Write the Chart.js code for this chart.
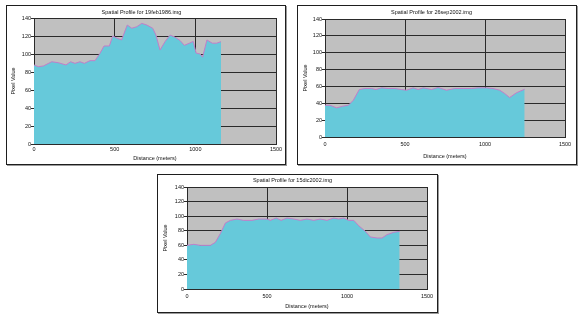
<!DOCTYPE html>
<html>
<head>
<meta charset="utf-8">
<script src="https://cdn.jsdelivr.net/npm/chart.js@4.4.1/dist/chart.umd.min.js"></script>
<style>
  html, body { margin: 0; padding: 0; background: #fff; }
  body { width: 585px; height: 319px; position: relative; overflow: hidden; }
  .frame {
    position: absolute;
    box-sizing: border-box;
    border: 1px solid #1e1e1e;
    box-shadow: 1px 1px 0 #9a9a9a;
    background: #fff;
  }
  .frame canvas { display: block; }
</style>
</head>
<body>
<div class="frame" id="f1" style="left:6px; top:5px; width:280px; height:160px;"><canvas id="c1"></canvas></div>
<div class="frame" id="f2" style="left:297px; top:5px; width:280px; height:160px;"><canvas id="c2"></canvas></div>
<div class="frame" id="f3" style="left:157px; top:174px; width:281px; height:139px;"><canvas id="c3"></canvas></div>
<script>
// Profile 1 - 19feb1986
const dist1 = [0, 27, 58, 110, 151, 198, 227, 254, 285, 312, 347, 378, 409, 434, 467, 488, 516, 543,
    578, 606, 637, 668, 699, 736, 756, 781, 812, 843, 874, 905, 932, 963, 987, 1005, 1030, 1045,
    1072, 1105, 1132, 1159];
const vals1 = [87.8, 85.9, 86.7, 91.4, 90.3, 87.8, 91.4, 89.6, 91.4, 89.6, 92.6, 92.6, 100.8, 108.9,
    108.9, 120, 117.4, 115.6, 132.2, 128.6, 130.3, 134, 132.2, 128.6, 121, 104.4, 113.7, 121,
    118.7, 115, 109.6, 112, 114, 101, 100, 96.5, 115.6, 112, 112, 113.7];

// Profile 2 - 26sep2002
const dist2 = [0, 31, 73, 110, 146, 177, 214, 250, 291, 318, 354, 395, 437, 478, 510, 551, 582, 614,
    666, 707, 759, 811, 863, 915, 957, 1009, 1050, 1092, 1123, 1154, 1196, 1248];
const vals2 = [37.7, 37.7, 34.5, 36.5, 37.7, 43.6, 56.3, 57.5, 57.5, 56.3, 58.3, 57.5, 57.5, 56.3,
    55.5, 58.3, 56.3, 58.3, 56.3, 58.7, 55.5, 57.5, 57.5, 57.5, 58.3, 58.3, 57.5, 55.5, 51.6,
    46.8, 52.4, 56.7];

// Profile 3 - 15dic2002
const dist3 = [0, 42, 83, 146, 177, 208, 240, 271, 313, 354, 406, 448, 500, 521, 558, 588, 625, 667,
    708, 750, 792, 833, 875, 917, 948, 979, 1010, 1042, 1073, 1115, 1146, 1188, 1219, 1250, 1292, 1329];
const vals3 = [59.9, 61.3, 59.9, 59.9, 64, 75.9, 90.6, 94.2, 96, 94.2, 94.2, 96, 96, 94.2, 97.4, 94.2,
    97.4, 96, 94.2, 96, 94.2, 96, 94.2, 97.4, 96, 97.4, 94.2, 94.2, 86.9, 79.1, 71.4, 70, 70,
    74.6, 77.8, 79.1];

const titles = ['Spatial Profile for 19feb1986.img', 'Spatial Profile for 26sep2002.img',
    'Spatial Profile for 15dic2002.img'];
const xTitle = 'Distance (meters)';
const yTitle = 'Pixel Value';

const FONT = "'Liberation Sans Narrow', Arial, 'Liberation Sans', sans-serif";
const colors = {
    plotBg: '#c0c0c0',
    fill: '#66c9da',
    line: '#c27ec9',
    grid: '#2a2a2a',
    text: '#111'
};

// paints the gray plot background under everything
const plotBackground = {
    id: 'plotBackground',
    beforeDraw(chart) {
        const { ctx, chartArea: a } = chart;
        ctx.save();
        ctx.fillStyle = colors.plotBg;
        ctx.fillRect(a.left, a.top, a.right - a.left, a.bottom - a.top);
        ctx.restore();
    }
};

function makeProfile(id, title, dist, vals, box) {
    const canvas = document.getElementById(id);
    canvas.width = box.w;
    canvas.height = box.h;
    canvas.style.width = box.w + 'px';
    canvas.style.height = box.h + 'px';
    const small = { family: FONT, size: 5.5 };

    return new Chart(canvas, {
        type: 'line',
        data: {
            datasets: [{
                data: dist.map((d, i) => ({ x: d, y: vals[i] })),
                borderColor: colors.line,
                backgroundColor: colors.fill,
                borderWidth: 1,
                fill: 'origin',
                tension: 0,
                pointRadius: 0
            }]
        },
        options: {
            responsive: false,
            animation: false,
            events: [],
            layout: { padding: { left: 0, top: 0, right: box.padRight, bottom: 0 } },
            plugins: {
                legend: { display: false },
                tooltip: { enabled: false },
                title: {
                    display: true,
                    text: title,
                    color: colors.text,
                    font: { family: FONT, size: 5.5, weight: 'normal', lineHeight: 1.2 },
                    padding: { top: box.titleTop, bottom: box.titleBottom }
                }
            },
            scales: {
                x: {
                    type: 'linear',
                    min: 0,
                    max: 1500,
                    ticks: {
                        stepSize: 500, color: colors.text, font: small, padding: box.xTickPad, maxRotation: 0,
                        callback: v => String(v)
                    },
                    grid: { color: colors.grid, lineWidth: 1, tickLength: 1 },
                    border: { color: colors.grid },
                    title: { display: true, text: xTitle, color: colors.text, font: small, padding: { top: 0, bottom: box.xTitlePad } },
                    afterFit(scale) { scale.height = box.xAxisH; }
                },
                y: {
                    min: 0,
                    max: 140,
                    ticks: { stepSize: 20, color: colors.text, font: small, padding: 0 },
                    grid: { color: colors.grid, lineWidth: 1, tickLength: 3 },
                    border: { color: colors.grid },
                    title: { display: true, text: yTitle, color: colors.text, font: small, padding: { top: box.yTitlePad, bottom: 0 } },
                    afterFit(scale) { scale.width = box.yAxisW; }
                }
            }
        },
        plugins: [plotBackground]
    });
}

makeProfile('c1', titles[0], dist1, vals1,
    { w: 278, h: 158, padRight: 9, titleTop: 3, titleBottom: 2.4, xAxisH: 20, yAxisW: 27, xTickPad: 1, xTitlePad: 2, yTitlePad: 3 });
makeProfile('c2', titles[1], dist2, vals2,
    { w: 278, h: 158, padRight: 11, titleTop: 3, titleBottom: 3.4, xAxisH: 27, yAxisW: 27, xTickPad: 3, xTitlePad: 4, yTitlePad: 4 });
makeProfile('c3', titles[2], dist3, vals3,
    { w: 279, h: 137, padRight: 10, titleTop: 1.8, titleBottom: 3.6, xAxisH: 23, yAxisW: 29, xTickPad: 3, xTitlePad: 2, yTitlePad: 4 });
</script>
</body>
</html>
